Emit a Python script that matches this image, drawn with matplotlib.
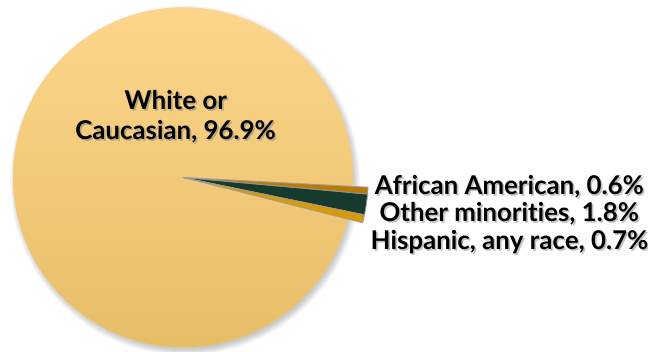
import matplotlib
matplotlib.use('Agg')
import matplotlib.pyplot as plt
import matplotlib.patheffects as pe
from matplotlib.patches import Circle
from matplotlib.colors import LinearSegmentedColormap
import numpy as np

# Slices in clockwise order, starting just below 3 o'clock
groups = ['African American', 'Other minorities', 'Hispanic, any race', 'White or\nCaucasian']
shares = [0.6, 1.8, 0.7, 96.9]
colors = ['#BB7A06', '#163A2E', '#D8990B', '#FCD386']

W, H = 648, 352
fig = plt.figure(figsize=(W / 100, H / 100), dpi=100)
ax = fig.add_axes([0, 0, 1, 1])

cx, cy, R = 183, H - 177.5, 170

# soft drop shadow behind the pie
for k in range(10):
    ax.add_patch(Circle((cx + 2, cy - 3), R + 5 - k * 0.8, color='#606060',
                        alpha=0.04, lw=0, zorder=0))

wedges, _ = ax.pie(shares, colors=colors, startangle=-3, counterclock=False,
                   center=(cx, cy), radius=R, frame=True,
                   wedgeprops=dict(edgecolor='#9a9a9a', linewidth=0.6))
ax.set_xlim(0, W)
ax.set_ylim(0, H)
ax.set_aspect('equal')
ax.axis('off')

# the three small slices poke out a little past the rim
for w in wedges[:3]:
    w.set_radius(R * 1.09)
    w.set_zorder(3)

# vertical shading on the big slice
big = wedges[3]
big.set_edgecolor('none')
cmap = LinearSegmentedColormap.from_list('sand', ['#E7BE68', '#FDD68C'])
grad = np.linspace(0, 1, 256).reshape(-1, 1)
im = ax.imshow(grad, cmap=cmap, origin='lower', aspect='auto',
               extent=(cx - R, cx + R, cy - R, cy + R), zorder=2)
im.set_clip_path(big)

shadow = [pe.withSimplePatchShadow(offset=(1.2, -1.2), shadow_rgbFace='#777777', alpha=0.45)]
font = ['Lato', 'DejaVu Sans']

ax.text(176, H - 116, f'{groups[3]}, {shares[3]}%', ha='center', va='center',
        fontsize=18.6, fontweight='bold', family=font, linespacing=1.3,
        path_effects=shadow, zorder=5)

label_y = [186, 213, 241]
for name, val, y in zip(groups[:3], shares[:3], label_y):
    ax.text(510, H - y, f'{name}, {val}%', ha='center', va='center',
            fontsize=18.6, fontweight='bold', family=font,
            path_effects=shadow, zorder=5)

fig.savefig('out.png', dpi=100)
